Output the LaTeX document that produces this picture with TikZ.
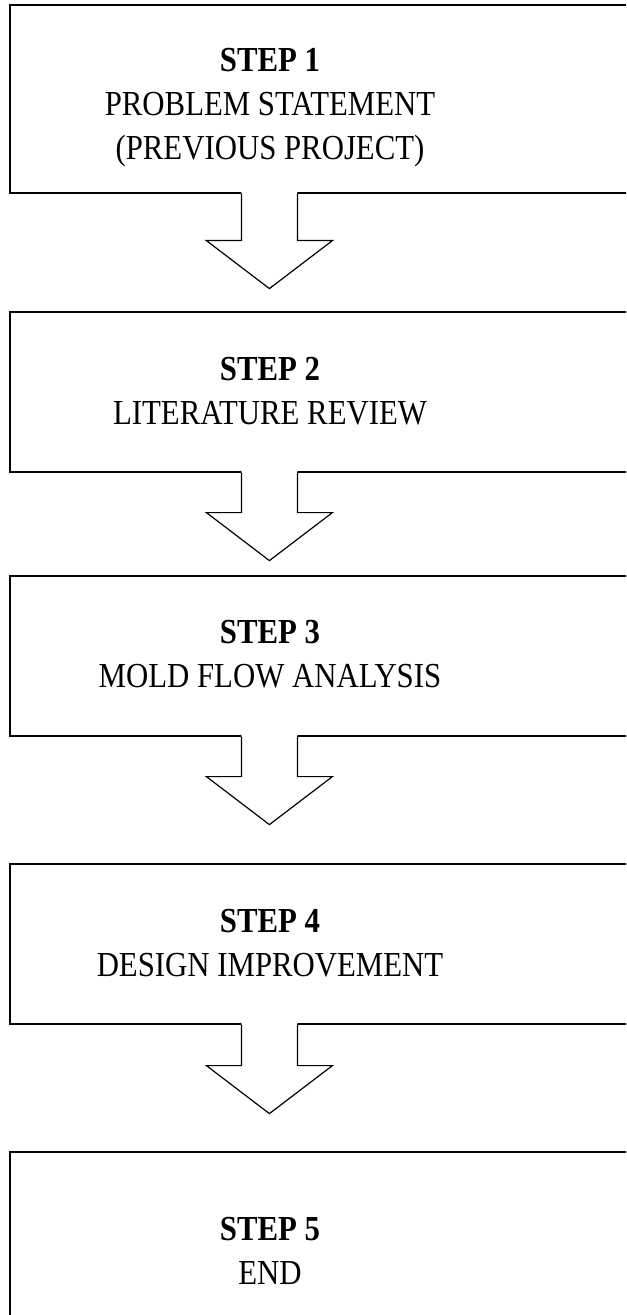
\documentclass[tikz,border=0pt]{standalone}
\usepackage{fontspec}
\setmainfont{Liberation Serif}
\usetikzlibrary{calc}
\newcommand{\headlen}{48}

\begin{document}
\begin{tikzpicture}[x=0.5pt,y=-0.5pt,line width=.6pt]
  \tikzset{stepbox/.style={draw, rectangle, minimum width=315pt, inner sep=0pt},
           steptext/.style={align=center, inner sep=0pt, yscale=1.14, transform shape,
                            font=\fontsize{15.4}{19.3}\selectfont}}
  \useasboundingbox (0,0) rectangle (626,1315);
  \clip (0,0) rectangle (626,1315);

      \node (s1) at (325,99)   [stepbox, minimum height=94pt] {};
      \node (s2) at (325,392)  [stepbox, minimum height=80pt] {};
      \node (s3) at (325,656)  [stepbox, minimum height=80pt] {};
      \node (s4) at (325,944)  [stepbox, minimum height=80pt] {};
      \node (s5) at (325,1250) [stepbox, minimum height=98pt] {};

      \node (t1) at (270,108)  [steptext] {\textbf{STEP 1}\\PROBLEM STATEMENT\\(PREVIOUS PROJECT)};
      \node (t2) at (270,391)  [steptext] {\textbf{STEP 2}\\LITERATURE REVIEW};
      \node (t3) at (270,654)  [steptext] {\textbf{STEP 3}\\MOLD FLOW ANALYSIS};
      \node (t4) at (270,943)  [steptext] {\textbf{STEP 4}\\DESIGN IMPROVEMENT};
      \node (t5) at (270,1251) [steptext] {\textbf{STEP 5}\\END};

      % block arrows hanging under each box
      \foreach \a/\l in {s1/47,s2/40,s3/40,s4/41} {
        \coordinate (top) at ($(\a.south west)+(260,0)$);
        \fill[white] ($(top)+(-28,-2)$) -- ++(0,\l+2) -- ++(-35,0) -- ($(top)+(0,\l+\headlen)$)
          -- ($(top)+(63,\l)$) -- ++(-35,0) -- ++(0,-\l-2) -- cycle;
        \draw[line join=miter] ($(top)+(-28,0)$) -- ++(0,\l) -- ++(-35,0) -- ($(top)+(0,\l+\headlen)$)
          -- ($(top)+(63,\l)$) -- ++(-35,0) -- ++(0,-\l);
      }

  \end{tikzpicture}
\end{document}
